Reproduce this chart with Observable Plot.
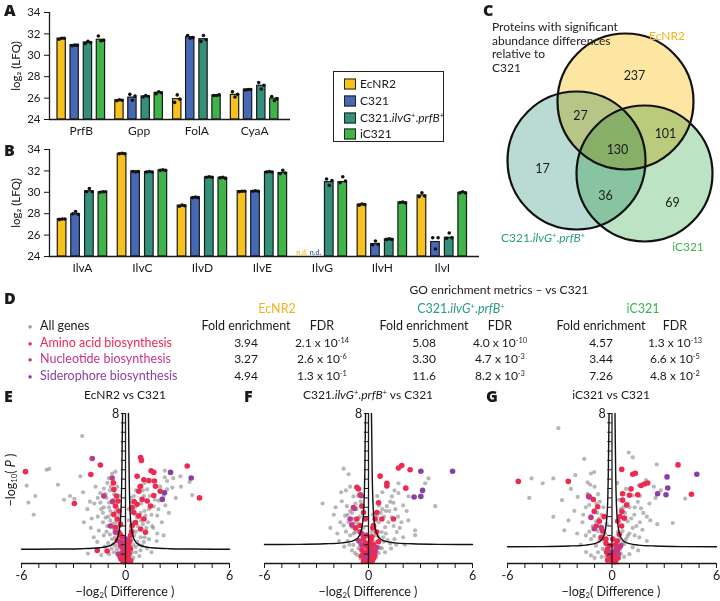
<!DOCTYPE html>
<html><head><meta charset="utf-8">
<script src="https://cdn.jsdelivr.net/npm/d3@7"></script>
<script src="https://cdn.jsdelivr.net/npm/@observablehq/plot@0.6"></script>
<style>
body{margin:0;background:#fff;}
#fig{position:relative;width:720px;height:601px;font-family:Lato,"Open Sans",sans-serif;color:#1a1a1a;overflow:hidden;background:#fff}
.t{position:absolute;white-space:nowrap;line-height:1;font-size:12px}
.c{transform:translate(-50%,-50%)}
.l{transform:translateY(-50%)}
.lbl{font-family:"Open Sans",Lato,sans-serif;font-weight:800;font-size:16px}
sup{font-size:0.62em;vertical-align:0.55em;line-height:0}
sub{font-size:0.62em;vertical-align:-0.25em;line-height:0}
svg{position:absolute}
.sw{position:absolute;width:10px;height:9px;border:1px solid #222;transform:translateY(-50%)}
</style></head><body><div id="fig"></div><script>
// ---------------- DATA ----------------
const strains = ["EcNR2", "C321", "C321.ilvG+.prfB+", "iC321"];
const strainColors = ["#f8c21c", "#4569b5", "#34907b", "#3eb449"];

// Panel A
const genesA = ["PrfB", "Gpp", "FolA", "CyaA"];
const a_EcNR2 = [31.55, 25.8, 25.9, 26.3];
const a_C321  = [30.95, 26.05, 31.7, 26.8];
const a_ilvG  = [31.2, 26.15, 31.5, 27.15];
const a_iC321 = [31.45, 26.5, 26.25, 25.95];
const aRep_EcNR2 = [[31.5,31.6,31.6],[25.75,25.85,25.8],[25.6,26.3,25.9],[26.6,26.1,26.35]];
const aRep_C321  = [[30.9,30.95,30.95],[26.35,25.8,26.2],[31.85,31.6,31.65],[26.75,26.8,26.8]];
const aRep_ilvG  = [[31.1,31.3,31.2],[26.1,26.25,26.15],[31.3,31.85,31.45],[27.45,26.85,27.2]];
const aRep_iC321 = [[31.8,31.35,31.4],[26.4,26.6,26.5],[26.25,26.25,26.3],[26.15,25.75,25.95]];

// Panel B
const genesB = ["IlvA", "IlvC", "IlvD", "IlvE", "IlvG", "IlvH", "IlvI"];
const b_EcNR2 = [27.5, 33.6, 28.75, 30.1, null, 28.85, 29.7];
const b_C321  = [27.95, 31.95, 29.5, 30.1, null, 25.15, 25.35];
const b_ilvG  = [30.1, 31.9, 31.4, 31.9, 30.95, 25.6, 25.75];
const b_iC321 = [30.0, 32.05, 31.35, 31.8, 30.95, 29.05, 29.95];
const bRep_EcNR2 = [[27.45,27.5,27.5],[33.6,33.65,33.6],[28.7,28.8,28.75],[30.05,30.1,30.1],null,[28.8,28.9,28.85],[29.6,29.95,29.65]];
const bRep_C321  = [[28.0,28.2,27.95],[31.95,31.9,31.95],[29.5,29.55,29.5],[30.1,30.15,30.1],null,[25.1,25.45,25.15],[25.75,24.7,25.75]];
const bRep_ilvG  = [[30.05,30.35,30.05],[31.9,31.95,31.9],[31.4,31.45,31.4],[31.9,31.95,31.9],[31.25,30.65,31.1],[25.6,25.65,25.6],[25.7,26.2,25.75]];
const bRep_iC321 = [[30.0,30.05,30.05],[32.05,32.1,32.05],[31.35,31.4,31.3],[31.75,32.05,31.8],[30.9,31.45,31.05],[29.05,29.1,29.0],[29.95,30.05,29.95]];
const yTicksBar = [24, 26, 28, 30, 32, 34];

// Panel C (Venn)
const vennSets = ["EcNR2", "C321.ilvG+.prfB+", "iC321"];
const vennRegions = ["EcNR2 only", "EcNR2∩ilvG", "EcNR2∩iC321", "all three", "ilvG only", "ilvG∩iC321", "iC321 only"];
const vennCounts = [237, 27, 101, 130, 17, 36, 69];

// Panel D (GO enrichment)
const goTerms = ["All genes", "Amino acid biosynthesis", "Nucleotide biosynthesis", "Siderophore biosynthesis"];
const fe_EcNR2 = ["3.94", "3.27", "4.94"];
const fdr_EcNR2 = [["2.1", "-14"], ["2.6", "-6"], ["1.3", "-1"]];
const fe_ilvG = ["5.08", "3.30", "11.6"];
const fdr_ilvG = [["4.0", "-10"], ["4.7", "-3"], ["8.2", "-3"]];
const fe_iC321 = ["4.57", "3.44", "7.26"];
const fdr_iC321 = [["1.3", "-13"], ["6.6", "-5"], ["4.8", "-2"]];

// Panels E, F, G volcano points [difference, -log10 P]
const grayE = [[-2.5,6.8],[-4.55,5.0],[-4.4,5.05],[-5.7,4.15],[-3.9,4.2],[-5.2,3.6],[-5.6,3.25],[-5.3,2.6],[-3.55,3.4],[-3.2,3.6],[-2.95,3.45],[-2.45,3.8],[-2.6,4.65],[-2.17,0.53],[-2.05,3.3],[-1.8,3.2],[-1.6,3.5],[-1.45,3.75],[-1.25,4.0],[-1.05,4.3],[-0.96,4.55],[-0.77,4.8],[-0.58,4.9],[-1.45,3.25],[-1.25,3.0],[-0.96,3.25],[-0.87,2.8],[-0.67,2.55],[-0.58,2.2],[-0.87,2.3],[-1.15,2.45],[-1.06,2.0],[-0.67,1.85],[-0.48,1.6],[-0.77,1.3],[-0.38,1.15],[-0.58,0.95],[-0.29,0.8],[-0.48,0.53],[-0.19,0.35],[-0.67,0.6],[-1.25,1.5],[-1.54,1.75],[-1.63,1.15],[-1.83,1.4],[-0.38,3.6],[-0.48,4.1],[-1.73,4.1],[-0.9,3.9],[-0.7,3.4],[-0.5,3.0],[-0.35,2.6],[-1.0,1.1],[-0.8,0.8],[-0.3,2.0],[-0.25,1.6],[-1.3,2.7],[-2.2,2.9],[-1.95,2.4],
  [-1.1,3.5],[-0.95,3.0],[-0.8,2.6],[-0.75,2.1],[-0.6,1.4],[-0.45,1.9],[-0.35,2.3],[-0.55,2.8],[-0.4,3.3],[-0.65,3.7],[-0.85,4.1],[-1.15,3.7],[-1.4,2.9],[-1.6,2.5],[-1.3,2.2],[-1.1,1.7],[-0.9,1.55],[-0.7,1.05],[-0.5,0.75],[-0.35,0.4],[-0.2,0.6],[-0.95,0.5],[-1.2,0.9],[-1.4,0.45],[-2.0,1.9],[-2.4,2.2],[-1.0,2.5],
  [0.19,0.35],[0.38,0.6],[0.58,0.88],[0.67,1.15],[0.87,1.4],[1.06,1.15],[1.35,1.3],[1.54,2.0],[1.83,1.6],[1.25,0.8],[0.87,0.7],[0.48,2.2],[0.67,2.45],[0.87,2.7],[1.15,2.55],[1.35,2.9],[1.63,3.05],[1.92,3.35],[2.2,3.6],[2.0,4.1],[2.4,3.95],[2.7,4.05],[2.27,4.95],[2.27,4.6],[2.75,4.55],[3.17,4.65],[3.7,4.35],[3.85,3.65],[1.06,3.6],[0.48,3.6],[0.38,3.25],[0.19,2.9],[1.25,3.95],[0.77,4.1],[1.83,2.55],[0.3,1.9],[0.25,1.4],[0.45,1.0],[0.6,1.7],[1.0,2.1],[1.2,1.9],[2.1,2.2],[1.5,2.6],[0.55,3.0],[0.9,3.2],[1.6,4.4],[0.0,0.25],[-0.1,0.1],[0.1,0.12],[0.05,0.5],[-0.05,0.7],
  [0.3,0.45],[0.45,0.3],[0.6,0.6],[0.75,1.0],[0.95,0.95],[1.1,1.4],[0.35,1.25],[0.5,1.5],[0.7,2.0],[0.9,2.3],[1.1,2.8],[1.3,3.3],[0.6,2.6],[0.4,2.8],[0.3,3.5],[0.6,3.9],[1.0,3.9],[1.4,3.6],[1.7,3.4],[1.9,2.9],[2.3,3.1],[2.5,2.7],[1.3,2.2],[1.6,1.9],[1.8,1.2],[2.2,1.5],[0.8,0.4],[1.5,0.6],[1.1,4.3],[2.4,4.4],[2.9,3.5],[3.2,4.1],[0.2,2.3]];
const redE = [[-5.77,4.9],[-2.95,3.2],[-1.45,5.25],[-2.0,4.75],[-1.63,0.7],[-1.06,0.67],[0.87,5.65],[0.92,5.5],[1.48,4.95],[1.63,4.86],[0.67,4.65],[1.06,4.47],[1.35,4.42],[1.67,4.4],[3.56,5.2],[4.27,3.5],[1.73,4.12],[1.63,3.63],[0.87,4.12],[0.77,3.86],[0.96,3.42],[1.25,3.33],[0.67,3.16],[0.38,2.98],[0.48,2.72],[0.77,2.54],[1.06,2.37],[0.58,2.19],[0.38,2.02],[1.15,1.67],[0.87,1.84],[0.29,1.49],[0.19,1.14],[0.29,0.79],[0.1,0.61],[1.44,3.07],[-0.67,3.95],[-0.52,3.6],[-0.44,3.33],[-0.58,3.07],[-0.38,2.8],[-0.67,2.63],[-0.48,2.37],[-0.29,2.1],[-0.58,1.93],[-0.38,1.67],[-0.19,1.4],[-0.48,1.23],[-0.29,0.96],[-0.13,0.61],[-0.06,0.35],[-0.25,0.23],[0.06,0.16],[-0.1,0.09],[0.0,0.45],[0.15,0.3],[-0.15,0.8],[0.2,0.9],[-0.7,4.3],[0.5,3.3],[2.0,3.85],
  [-0.2,0.55],[0.2,0.55],[-0.3,0.35],[0.3,0.15],[0.05,0.85],[-0.05,1.1],[0.1,0.25],[-0.15,0.15],[0.25,1.2],[-0.3,1.5],[0.35,1.7]];
const magE = [[-1.92,5.6],[-0.77,4.56],[-1.25,3.6],[-0.87,2.0],[-0.58,1.67],[-0.29,1.14],[-0.1,0.79],[-0.75,3.3],[0.05,1.3],[-0.4,0.5]];
const purE = [[2.6,4.86],[3.79,4.56],[2.25,3.77],[2.12,3.42]];

const grayF = [[-1.44,5.06],[-1.15,4.76],[-2.65,3.2],[-1.58,3.8],[-1.06,4.1],[-0.87,3.58],[-1.54,3.32],[-1.25,3.06],[-1.06,2.8],[-1.35,2.55],[-1.63,2.2],[-1.44,2.03],[-1.15,2.2],[-0.96,1.94],[-0.77,1.68],[-1.06,1.5],[-0.67,1.25],[-0.87,0.99],[-0.58,0.81],[-0.38,0.64],[-0.77,0.55],[-0.48,0.29],[-0.29,0.21],[-0.7,2.9],[-0.5,2.5],[-0.9,2.4],[-0.6,2.1],[-1.2,1.2],[-0.4,1.5],[-0.3,1.9],[-2.0,2.6],[-1.8,1.6],
  [-0.45,3.3],[-0.6,3.6],[-0.75,3.2],[-0.95,2.7],[-1.2,2.6],[-0.8,2.2],[-0.65,1.8],[-0.85,1.6],[-1.3,1.7],[-1.1,1.0],[-0.95,0.7],[-0.65,0.45],[-0.5,1.0],[-0.35,1.2],[-0.25,0.5],[-1.4,0.9],[-1.7,1.2],[-2.2,1.9],[-1.9,3.0],[-1.3,3.9],
  [0.38,1.16],[0.58,1.42],[0.77,1.68],[0.96,1.94],[1.15,2.2],[1.35,2.46],[1.06,3.06],[1.44,3.24],[1.35,3.58],[1.73,3.76],[2.31,3.58],[1.63,1.68],[1.25,1.07],[0.77,0.81],[0.58,0.55],[0.29,0.38],[2.69,1.77],[2.69,1.51],[3.46,4.54],[3.27,4.28],[3.85,3.06],[1.73,4.28],[0.58,2.2],[0.48,2.55],[0.19,1.68],[0.87,1.16],[0.8,2.9],[0.6,3.1],[1.9,2.2],[1.5,1.3],[2.1,1.0],[0.95,0.6],[0.3,0.9],[0.1,0.3],[-0.1,0.5],[1.2,2.8],[2.0,3.1],
  [0.45,0.35],[0.65,0.85],[0.85,1.4],[1.0,1.6],[1.1,1.25],[0.4,1.5],[0.35,1.9],[0.7,2.7],[0.9,2.5],[1.0,2.8],[1.25,3.3],[1.55,2.9],[1.7,2.5],[1.45,2.0],[1.8,1.9],[2.3,2.3],[2.0,1.4],[1.3,0.8],[0.5,3.6],[0.8,3.8],[1.5,3.9],[2.2,2.8],[0.25,2.6],[0.2,1.1],[1.6,1.0]];
const redF = [[0.67,4.66],[1.06,4.28],[1.06,4.14],[1.73,5.09],[1.92,5.23],[2.4,5.0],[2.15,4.02],[0.58,3.24],[1.44,2.37],[-0.67,4.07],[-0.58,3.97],[-0.48,3.67],[-0.87,2.98],[-0.38,3.06],[-0.29,2.72],[-0.19,2.37],[-0.48,2.03],[0.29,2.03],[0.38,2.37],[0.48,2.72],[0.19,1.42],[0.1,1.16],[-0.1,0.9],[0,0.64],[-0.19,0.47],[0.1,0.38],[-0.1,0.21],[0,0.12],[-0.29,0.12],[0.23,0.16],[0.38,0.64],[-0.38,0.73],[-0.29,1.33],[-0.48,1.68],[0.48,1.68],[0.58,1.16],[-0.67,2.37],[0.77,2.37],[-0.2,0.3],[0.15,0.8],[0.3,0.3],[-0.4,0.4],[0,1.0],[0.25,1.9],[-0.75,1.9],
  [-0.15,0.6],[0.2,0.5],[-0.3,0.5],[0.1,0.15],[-0.05,0.4],[0.3,1.0],[-0.2,1.1],[0.15,1.3],[-0.1,1.5],[0.05,0.85],[0.35,0.45]];
const magF = [[-0.42,3.62],[-0.81,2.93],[-1.06,2.37],[-0.96,2.06],[-0.38,1.59],[-0.38,0.99],[0.48,0.85],[-0.55,1.2],[0.1,0.6],[-0.15,0.35]];
const purF = [[3.02,4.92],[4.85,4.92],[3.12,3.9],[2.63,3.55],[3.02,3.58]];

const grayG = [[-3.08,7.22],[-4.62,4.54],[-3.37,4.54],[-3.98,4.28],[-4.75,3.5],[-3.37,2.49],[-2.74,1.77],[-2.87,3.38],[-2.36,3.98],[-2.11,4.71],[-1.59,5.58],[-1.21,4.8],[-1.02,4.88],[-1.4,4.33],[-1.97,3.55],[-2.16,2.81],[-1.4,3.72],[-1.11,3.46],[-1.3,3.12],[-1.02,2.86],[-1.21,2.51],[-0.92,2.25],[-1.11,1.99],[-0.82,1.73],[-1.02,1.47],[-0.73,1.21],[-0.92,0.95],[-0.54,0.78],[-1.49,0.61],[-1.21,0.43],[-0.34,0.35],[-0.6,2.6],[-0.5,3.0],[-0.7,3.3],[-0.4,1.6],[-0.3,2.1],[-1.7,2.2],[-1.5,1.5],
  [-0.45,1.2],[-0.55,1.5],[-0.65,2.0],[-0.75,2.4],[-0.85,2.7],[-0.9,3.2],[-0.8,3.7],[-1.0,4.1],[-1.25,4.2],[-1.5,3.0],[-1.65,2.6],[-1.3,1.7],[-1.2,1.3],[-0.8,0.6],[-0.6,0.35],[-1.0,0.3],[-1.8,1.0],[-2.0,1.6],[-2.5,2.3],[-0.4,0.7],
  [0.96,5.92],[1.19,5.66],[2.57,5.28],[1.95,4.45],[1.53,4.16],[3.49,2.16],[4.2,3.46],[0.8,3.98],[1.19,3.64],[1.48,3.29],[1.67,2.94],[1.28,2.6],[0.9,2.25],[1.19,1.9],[0.61,1.73],[0.9,1.47],[0.42,1.3],[0.71,1.04],[1.19,0.87],[0.23,0.78],[0.52,0.52],[0.13,0.26],[2.15,3.2],[1.57,1.39],[2.4,4.1],[2.0,2.5],[1.6,2.2],[0.5,2.9],[0.3,2.3],[0.9,3.2],[2.8,3.9],
  [0.3,0.5],[0.45,0.75],[0.6,1.1],[0.8,1.3],[1.0,1.6],[1.3,1.5],[1.4,2.0],[1.1,2.4],[0.75,2.7],[0.65,3.0],[0.4,3.4],[1.0,3.0],[1.3,3.0],[1.6,3.6],[1.8,2.7],[2.2,2.3],[2.5,3.5],[1.75,1.8],[2.0,1.2],[1.0,0.5],[0.35,1.7],[0.7,0.35],[1.5,0.7],[2.6,2.1],[0.3,4.3]];
const redG = [[-5.38,4.38],[-2.51,4.38],[-1.34,3.58],[-1.07,3.41],[-0.82,3.03],[-1.02,2.77],[-0.73,2.25],[-0.54,1.73],[-0.63,1.39],[-0.34,1.07],[-0.25,0.78],[-0.15,0.52],[-0.06,0.35],[-0.25,0.17],[0.04,0.09],[0.23,0.26],[0.13,0.61],[0.42,0.87],[0.42,1.56],[0.71,2.42],[0.57,2.77],[0.84,3.12],[0.61,3.38],[1.0,3.64],[1.09,3.98],[1.48,3.67],[1.67,4.16],[1.86,4.24],[2.05,4.29],[1.19,4.76],[1.34,4.81],[0.56,5.02],[3.79,5.26],[4.56,3.69],[0.61,3.72],[0.33,2.25],[0.46,2.51],[-0.9,2.0],[0.3,1.2],[-0.1,0.3],[0.1,0.4],[0.2,0.1],[0.55,2.0],[-0.45,2.5],
  [-0.2,0.45],[0.15,0.2],[-0.3,0.6],[0.3,0.65],[0.0,0.55],[-0.1,0.95],[0.2,1.0],[-0.15,0.25],[0.05,1.3],[-0.35,1.3],[0.35,0.3]];
const magG = [[-1.3,3.55],[-1.21,2.46],[-1.02,1.85],[-0.6,1.9],[0.23,0.78],[0.5,0.95],[-0.1,0.6],[0.35,0.5]];
const purG = [[3.16,4.62],[4.87,4.76],[3.2,4.03],[2.62,3.72],[3.1,3.67]];

// significance threshold curves (right branch; left branch mirrored)
const curveE = [[0.17,8],[0.19,6.5],[0.21,4.8],[0.24,3.4],[0.28,2.5],[0.34,1.9],[0.42,1.5],[0.55,1.2],[0.75,1.02],[1,0.92],[1.5,0.84],[2.5,0.79],[4,0.77],[6,0.76]];
const curveF = [[0.17,8],[0.19,6.6],[0.21,5.0],[0.24,3.7],[0.28,2.8],[0.34,2.15],[0.42,1.75],[0.55,1.45],[0.75,1.27],[1,1.18],[1.5,1.1],[2.5,1.05],[4,1.02],[6,1.01]];
const curveG = [[0.17,8],[0.19,6.5],[0.21,4.9],[0.24,3.55],[0.28,2.65],[0.34,2.05],[0.42,1.62],[0.55,1.33],[0.75,1.15],[1,1.06],[1.5,0.98],[2.5,0.93],[4,0.9],[6,0.89]];
const volcanoXTicks = [-6,-5,-4,-3,-2,-1,0,1,2,3,4,5,6];
const volcanoYTicks = [0.5,1,1.5,2,2.5,3,3.5,4,4.5,5,5.5,6,6.5,7,7.5,8];

// ---------------- RENDER ----------------
const fig = document.getElementById("fig");
const FONT = {fontFamily: "Lato, 'Open Sans', sans-serif", fontSize: "11.5px", color: "#1a1a1a", background: "transparent", overflow: "visible"};
function place(el, left, top) { el.style.position = "absolute"; el.style.left = left + "px"; el.style.top = top + "px"; fig.appendChild(el); return el; }
function txt(html, x, y, cls = "c", style = "") {
  const d = document.createElement("div"); d.className = "t " + cls; d.innerHTML = html; d.style.cssText += style;
  d.style.left = x + "px"; d.style.top = y + "px"; fig.appendChild(d); return d;
}
const ilvGName = 'C321.<i>ilvG</i><sup>+</sup>.<i>prfB</i><sup>+</sup>';

// Bar panels
function barPlot(genes, means, reps, rightPx) {
  const off = [-0.34, -0.115, 0.115, 0.34], hw = 0.072, jit = [-0.045, 0, 0.045];
  const bars = [], dots = [], nd = [];
  genes.forEach((g, i) => means.forEach((m, j) => {
    if (m[i] == null) { nd.push({x: i + off[j], j}); return; }
    bars.push({i, j, v: m[i]});
    reps[j][i].forEach((r, k) => dots.push({x: i + off[j] + jit[k], y: r}));
  }));
  const x0 = -0.55, x1 = genes.length - 1 + 0.62;
  return Plot.plot({
    width: rightPx + 2, height: 141, marginLeft: 49, marginRight: 2, marginTop: 12, marginBottom: 22,
    style: FONT,
    x: {domain: [x0, x1], axis: null},
    y: {domain: [24, 34]},
    color: {type: "identity"},
    marks: [
      Plot.rect(bars, {x1: d => d.i + off[d.j] - hw, x2: d => d.i + off[d.j] + hw, y1: 24, y2: "v", fill: d => strainColors[d.j], stroke: "#1a1a1a", strokeWidth: 1.2}),
      Plot.dot(dots, {x: "x", y: "y", r: 1.8, fill: "#111"}),
      Plot.text(nd, {x: "x", y: 24, dy: -4, text: () => "n.d.", fill: d => strainColors[d.j], fontSize: 7, fontWeight: "bold"}),
      Plot.ruleY([24], {strokeWidth: 1.3}),
      Plot.ruleX([x0], {y1: 24, y2: 34, strokeWidth: 1.3}),
      Plot.axisY({ticks: yTicksBar, tickSize: 5, tickPadding: 4, fontSize: 11.5, label: "log₂ (LFQ)", labelAnchor: "center", labelArrow: "none", labelOffset: 38}),
      Plot.text(genes, {x: (d, i) => i, y: 24, dy: 12, text: d => d, fontSize: 12})
    ]
  });
}
place(barPlot(genesA, [a_EcNR2, a_C321, a_ilvG, a_iC321], [aRep_EcNR2, aRep_C321, aRep_ilvG, aRep_iC321], 290), 0, 0);
place(barPlot(genesB, [b_EcNR2, b_C321, b_ilvG, b_iC321], [bRep_EcNR2, bRep_C321, bRep_ilvG, bRep_iC321], 479), 0, 137);
txt("A", 4, 10, "l lbl"); txt("B", 4, 150, "l lbl");

// Legend
const lg = document.createElement("div");
lg.style.cssText = "position:absolute;left:333px;top:71px;width:109px;height:69px;border:1.3px solid #222;";
fig.appendChild(lg);
const legendNames = ["EcNR2", "C321", ilvGName, "iC321"];
strains.forEach((s, j) => {
  const y = 84 + j * 16.8;
  const sw = document.createElement("div"); sw.className = "sw"; sw.style.left = "344px"; sw.style.top = y + "px"; sw.style.background = strainColors[j]; fig.appendChild(sw);
  txt(legendNames[j], 360, y, "l", "font-size:12px");
});

// Venn (panel C)
const vennLayout = {"EcNR2": [145, 101, 68], "C321.ilvG+.prfB+": [96, 160, 69], "iC321": [164, 173, 68]};
const vennFill = {"EcNR2": "#fde6a2", "C321.ilvG+.prfB+": "#b9dbd4", "iC321": "#bce3c3"};
const vennCountPos = [[154, 75], [100, 115], [185, 133], [137, 149], [62, 168], [125, 195], [192, 202]];
const vennMarks = vennSets.map(s => Plot.dot([s], {x: d => vennLayout[d][0], y: d => vennLayout[d][1], r: d => vennLayout[d][2], fill: d => vennFill[d], mixBlendMode: "multiply"}));
place(Plot.plot({
  width: 240, height: 290, margin: 0, style: FONT,
  x: {domain: [0, 240], range: [0, 240], axis: null},
  y: {domain: [0, 290], range: [0, 290], axis: null},
  r: {type: "identity"}, color: {type: "identity"},
  marks: [
    ...vennMarks,
    Plot.dot(vennSets, {x: d => vennLayout[d][0], y: d => vennLayout[d][1], r: d => vennLayout[d][2], fill: "none", stroke: "#111", strokeWidth: 2.2}),
    Plot.text(vennCounts, {x: (d, i) => vennCountPos[i][0], y: (d, i) => vennCountPos[i][1], text: d => String(d), fontSize: 12.5, fill: "#1a1a1a"})
  ]
}), 480, 0);
txt("C", 483, 10, "l lbl");
["Proteins with significant", "abundance differences", "relative to", "C321"].forEach((s, i) => txt(s, 492, 27 + i * 13.5, "l", "font-size:12px"));
txt("EcNR2", 667, 36, "c", "color:#f4b41a;font-size:12px");
txt(ilvGName, 543, 238, "c", "color:#2b9a83;font-size:12px");
txt("iC321", 688, 247, "c", "color:#3db44a;font-size:12px");

// Panel D table
txt("D", 4, 298, "l lbl");
txt("GO enrichment metrics – vs C321", 499, 290, "c");
txt("EcNR2", 277, 309, "c", "color:#f4b41a;font-size:12.5px");
txt(ilvGName, 461, 309, "c", "color:#2b9a83;font-size:12.5px");
txt("iC321", 643, 309, "c", "color:#3db44a;font-size:12.5px");
const goColors = ["#9a9a9a", "#ee2a50", "#c2378a", "#8a3fa5"];
const rowY = [326, 342.5, 359, 375.5];
goTerms.forEach((g, i) => {
  txt("●", 30, rowY[i], "c", `color:${goColors[i]};font-size:7px`);
  txt(g, 40, rowY[i], "l", "font-size:12.5px;" + (i ? `color:${goColors[i]}` : ""));
});
const colX = [246, 322, 424, 500, 601, 675];
[0, 2, 4].forEach(c => { txt("Fold enrichment", colX[c], rowY[0], "c", "font-size:12.5px"); txt("FDR", colX[c + 1], rowY[0], "c", "font-size:12.5px"); });
[[fe_EcNR2, fdr_EcNR2], [fe_ilvG, fdr_ilvG], [fe_iC321, fdr_iC321]].forEach(([fe, fdr], k) => {
  fe.forEach((v, i) => txt(v, colX[2 * k], rowY[i + 1], "c"));
  fdr.forEach(([m, e], i) => txt(`${m} x 10<sup>${e}</sup>`, colX[2 * k + 1], rowY[i + 1], "c"));
});

// Volcano panels
function volcano(gray, red, mag, pur, curve, marginLeft, marginRight) {
  const P = a => a.map(([x, y]) => ({x, y}));
  const right = P(curve), left = curve.map(([x, y]) => ({x: -x, y}));
  return Plot.plot({
    width: 240, height: 206, marginLeft, marginRight, marginTop: 18, marginBottom: 38, style: FONT,
    x: {domain: [-6, 6], axis: null}, y: {domain: [0, 8], axis: null},
    marks: [
      Plot.dot(P(gray), {x: "x", y: "y", r: 2.1, fill: "#7c7c7c", fillOpacity: 0.55}),
      Plot.dot(P(red), {x: "x", y: "y", r: 2.8, fill: "#ee2a50"}),
      Plot.dot(P(mag), {x: "x", y: "y", r: 2.8, fill: "#bd3a8c"}),
      Plot.dot(P(pur), {x: "x", y: "y", r: 2.8, fill: "#8a3fa5"}),
      Plot.line(right, {x: "x", y: "y", stroke: "#111", strokeWidth: 1.4, curve: "monotone-x"}),
      Plot.line(left, {x: "x", y: "y", stroke: "#111", strokeWidth: 1.4, curve: "monotone-x"}),
      Plot.ruleX([0], {y1: 0, y2: 8, strokeWidth: 1.3}),
      Plot.ruleY(volcanoYTicks, {x1: -0.24, x2: 0, strokeWidth: 1}),
      Plot.ruleY([0], {x1: -6, x2: 6, strokeWidth: 1.3}),
      Plot.axisX({ticks: volcanoXTicks, tickSize: 5, tickPadding: 3, fontSize: 12.5, label: null, tickFormat: d => [-6, 0, 6].includes(d) ? String(d) : ""}),
      Plot.text(["8"], {x: 0, y: 8, dx: -10, text: d => d, fontSize: 12.5})
    ]
  });
}
place(volcano(grayE, redE, magE, purE, curveE, 21, 11), 0, 395);
place(volcano(grayF, redF, magF, purF, curveF, 24, 8), 240, 395);
place(volcano(grayG, redG, magG, purG, curveG, 27, 4), 480, 395);
txt("E", 4, 396, "l lbl"); txt("F", 244, 396, "l lbl"); txt("G", 486, 396, "l lbl");
txt("EcNR2 vs C321", 125, 395, "c", "font-size:12px");
txt(ilvGName + " vs C321", 368, 395, "c", "font-size:12px");
txt("iC321 vs C321", 611, 395, "c", "font-size:12px");
const xl = "−log<sub>2</sub>( Difference )";
txt(xl, 125, 592, "c", "font-size:12.5px"); txt(xl, 368, 592, "c", "font-size:12.5px"); txt(xl, 611, 592, "c", "font-size:12.5px");
txt("−log<sub>10</sub>( <i>P</i> )", 11, 480, "c", "transform:translate(-50%,-50%) rotate(-90deg);font-size:12.5px");
</script></body></html>
